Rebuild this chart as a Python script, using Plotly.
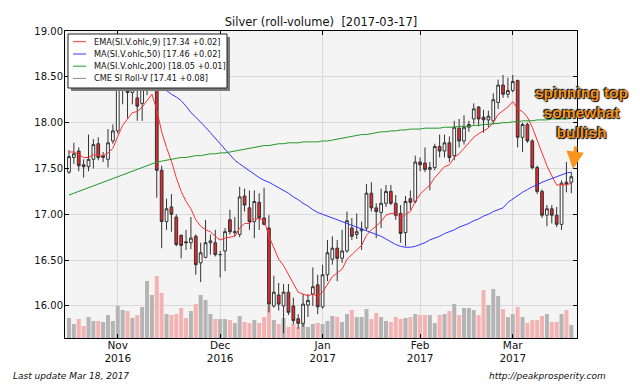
import pandas as pd
import plotly.graph_objects as go

# ---------------- data ----------------
holidays = ["2016-11-24", "2016-12-26", "2017-01-02", "2017-01-16", "2017-02-20"]
dates = [d.strftime("%Y-%m-%d") for d in pd.bdate_range("2016-10-18", "2017-03-17")
         if d.strftime("%Y-%m-%d") not in holidays]

open_ = [17.46,17.62,17.69,17.54,17.52,17.60,17.77,17.62,17.60,17.80,
         17.91,18.40,18.42,18.33,18.27,18.21,18.37,18.50,18.60,17.48,
         16.92,17.08,16.97,16.77,16.70,16.69,16.76,16.47,16.53,16.69,
         16.69,16.56,16.60,16.94,16.80,16.78,17.20,17.07,16.92,17.13,
         16.96,16.85,16.00,16.12,16.00,16.15,16.00,15.86,15.81,16.01,
         16.13,16.23,15.99,16.34,16.51,16.63,16.52,16.60,16.85,16.78,
         16.82,16.85,17.23,17.07,17.02,17.12,17.25,17.12,17.01,16.80,
         17.17,17.14,17.57,17.56,17.49,17.51,17.74,17.69,17.78,17.64,
         17.94,17.80,17.95,18.04,18.17,18.06,18.03,18.02,18.22,18.41,
         18.31,18.35,18.46,17.84,17.98,17.80,17.51,17.25,16.99,17.06,
         16.99,16.89,17.35,17.35]
high = [17.70,17.78,17.73,17.60,17.87,17.82,17.84,17.68,17.93,17.98,
        18.45,18.50,18.50,18.45,18.37,18.40,18.85,18.95,18.70,17.53,
        17.17,17.22,17.00,16.78,16.83,16.97,16.78,16.69,16.94,16.78,
        16.83,16.60,16.85,17.05,16.97,17.30,17.28,17.26,17.26,17.23,
        17.29,16.99,16.33,16.25,16.24,16.24,16.09,15.91,16.13,16.13,
        16.42,16.34,16.45,16.72,16.76,16.72,16.83,17.03,16.96,17.01,
        16.92,17.33,17.35,17.12,17.28,17.32,17.32,17.21,17.10,17.20,
        17.26,17.64,17.62,17.73,17.57,17.77,17.87,17.87,17.85,18.02,
        18.04,18.08,18.02,18.21,18.18,18.14,18.13,18.32,18.47,18.52,
        18.49,18.52,18.47,18.00,18.00,17.82,17.53,17.27,17.10,17.10,
        17.08,17.37,17.57,17.46]
low = [17.44,17.55,17.47,17.40,17.47,17.50,17.59,17.57,17.51,17.77,
       17.88,18.20,18.05,18.20,18.02,18.02,18.30,18.40,17.18,16.63,
       16.83,16.81,16.65,16.52,16.61,16.62,16.34,16.26,16.52,16.56,
       16.54,16.31,16.38,16.78,16.76,16.75,17.03,16.83,16.74,16.83,
       16.88,15.93,15.98,15.95,15.70,15.90,15.80,15.75,15.77,15.88,
       16.00,15.91,15.97,16.27,16.45,16.27,16.47,16.58,16.72,16.73,
       16.61,16.82,17.03,16.74,16.85,17.08,17.10,16.94,16.69,16.65,
       17.05,17.12,17.47,17.46,17.26,17.48,17.62,17.62,17.57,17.59,
       17.73,17.76,17.90,17.98,17.96,17.89,17.95,17.98,18.15,18.27,
       18.27,18.33,17.73,17.68,17.78,17.49,17.22,16.96,16.87,16.90,
       16.86,16.83,17.24,17.23]
close = [17.63,17.66,17.53,17.52,17.60,17.76,17.62,17.64,17.78,17.91,
         18.40,18.42,18.33,18.38,18.18,18.37,18.50,18.60,17.48,16.92,
         17.06,17.00,16.67,16.66,16.69,16.74,16.45,16.58,16.69,16.71,
         16.56,16.56,16.81,16.81,16.81,17.19,17.10,16.92,17.14,16.96,
         16.89,16.02,16.15,16.02,16.15,15.93,15.84,15.81,16.02,16.06,
         16.21,15.99,16.34,16.58,16.63,16.52,16.60,16.93,16.76,16.81,
         16.84,17.23,17.07,17.03,17.12,17.25,17.12,16.99,16.79,17.14,
         17.13,17.57,17.54,17.49,17.51,17.74,17.69,17.78,17.62,17.95,
         17.80,17.95,17.98,18.15,18.04,18.03,18.07,18.25,18.41,18.31,
         18.35,18.45,17.84,17.98,17.80,17.51,17.25,16.99,17.06,16.99,
         16.89,17.34,17.33,17.41]
volume = [40,28,38,24,42,34,34,32,46,34,
          64,56,54,40,46,62,114,86,124,90,
          48,46,48,60,40,54,68,86,76,48,
          38,38,38,36,30,44,32,30,36,30,
          42,64,36,28,40,22,28,22,30,22,
          28,30,28,34,44,42,32,48,56,42,
          42,58,38,50,42,34,32,42,38,40,
          42,48,46,46,46,30,46,48,54,68,
          46,60,60,56,46,96,66,98,84,58,
          42,48,62,42,30,36,36,44,48,32,
          32,48,56,26]
ema9 = [17.68,17.68,17.65,17.62,17.62,17.65,17.64,17.64,17.67,17.72,
        17.85,17.97,18.04,18.11,18.12,18.17,18.24,18.31,18.14,17.90,
        17.73,17.58,17.40,17.25,17.14,17.06,16.94,16.87,16.83,16.81,
        16.76,16.72,16.74,16.75,16.76,16.85,16.90,16.90,16.95,16.95,
        16.94,16.76,16.64,16.51,16.44,16.34,16.24,16.15,16.13,16.11,
        16.13,16.10,16.15,16.24,16.32,16.36,16.40,16.51,16.56,16.61,
        16.66,16.77,16.83,16.87,16.92,16.99,17.01,17.01,16.96,17.00,
        17.03,17.14,17.22,17.27,17.32,17.40,17.46,17.52,17.54,17.62,
        17.66,17.72,17.77,17.84,17.88,17.91,17.94,18.00,18.09,18.13,
        18.17,18.23,18.15,18.12,18.06,17.95,17.81,17.65,17.53,17.42,
        17.32,17.32,17.32,17.34]
ma50 = [18.95,18.93,18.91,18.88,18.86,18.84,18.81,18.79,18.76,18.73,
        18.70,18.67,18.64,18.61,18.58,18.55,18.51,18.47,18.43,18.38,
        18.34,18.31,18.28,18.24,18.18,18.11,18.06,18.01,17.95,17.89,
        17.83,17.77,17.71,17.65,17.59,17.55,17.51,17.47,17.43,17.40,
        17.37,17.35,17.32,17.29,17.26,17.23,17.19,17.16,17.12,17.09,
        17.05,17.02,17.00,16.98,16.96,16.94,16.92,16.90,16.88,16.86,
        16.84,16.82,16.80,16.78,16.76,16.73,16.70,16.67,16.65,16.64,
        16.64,16.65,16.67,16.69,16.72,16.74,16.76,16.79,16.81,16.83,
        16.86,16.88,16.90,16.93,16.95,16.98,17.00,17.03,17.05,17.07,
        17.13,17.17,17.21,17.24,17.27,17.30,17.32,17.35,17.37,17.39,
        17.41,17.43,17.45,17.46]
ma200 = [17.21,17.23,17.25,17.27,17.29,17.31,17.33,17.35,17.37,17.39,
         17.41,17.43,17.45,17.47,17.49,17.51,17.53,17.55,17.57,17.58,
         17.59,17.60,17.61,17.62,17.62,17.63,17.64,17.64,17.65,17.66,
         17.66,17.67,17.67,17.68,17.69,17.70,17.71,17.72,17.73,17.74,
         17.75,17.75,17.76,17.77,17.77,17.78,17.78,17.78,17.79,17.79,
         17.79,17.79,17.80,17.80,17.81,17.82,17.83,17.84,17.85,17.86,
         17.87,17.87,17.88,17.89,17.90,17.90,17.91,17.91,17.92,17.92,
         17.93,17.93,17.93,17.94,17.94,17.94,17.94,17.95,17.95,17.95,
         17.96,17.96,17.96,17.97,17.97,17.98,17.98,17.99,17.99,18.00,
         18.00,18.01,18.01,18.02,18.02,18.02,18.03,18.03,18.03,18.04,
         18.04,18.04,18.04,18.05]

tick_dates = ["2016-11-01", "2016-12-01", "2017-01-03", "2017-02-01", "2017-03-01"]
tick_text = ["Nov<br>2016", "Dec<br>2016", "Jan<br>2017", "Feb<br>2017", "Mar<br>2017"]
price_ticks = [16.0, 16.5, 17.0, 17.5, 18.0, 18.5, 19.0]

legend_labels = ["EMA(SI.V.ohlc,9) [17.34 +0.02]",
                 "MA(SI.V.ohlc,50) [17.46 +0.02]",
                 "MA(SI.V.ohlc,200) [18.05 +0.01]",
                 "CME SI Roll-V [17.41 +0.08]"]

# ---------------- styling helpers ----------------
FONT = "DejaVu Sans"
L, R, T, B = 65, 577, 31, 338
W, H = 640, 384
def px(x): return (x - L) / (R - L)
def py(y): return (B - y) / (B - T)

RED, BLUE, GREEN, GRAY = "#ff3030", "#3535ff", "#22992a", "#8c8c8c"

vol_colors = ["#b4b4b4" if c >= o else "#f4b2b2" for o, c in zip(open_, close)]

fig = go.Figure()
fig.add_trace(go.Bar(x=dates, y=volume, marker=dict(color=vol_colors, line=dict(width=0)),
                     yaxis="y", showlegend=False, hoverinfo="skip"))
fig.add_trace(go.Candlestick(x=dates, open=open_, high=high, low=low, close=close,
                             yaxis="y2", showlegend=False,
                             increasing=dict(line=dict(color="#333333", width=1), fillcolor="#ffffff"),
                             decreasing=dict(line=dict(color="#333333", width=1), fillcolor="#e8282c"),
                             whiskerwidth=0))
for vals, col in [(ema9, RED), (ma50, BLUE), (ma200, GREEN)]:
    fig.add_trace(go.Scatter(x=dates, y=vals, mode="lines", yaxis="y2",
                             line=dict(color=col, width=1), showlegend=False, hoverinfo="skip"))

shapes = []
annotations = []
# legend box with shadow
shapes.append(dict(type="rect", xref="paper", yref="paper", x0=px(71), x1=px(230), y0=py(91), y1=py(37),
                   fillcolor="#7a7a7a", line=dict(width=0), layer="above"))
shapes.append(dict(type="rect", xref="paper", yref="paper", x0=px(68), x1=px(227), y0=py(88), y1=py(34),
                   fillcolor="#ffffff", line=dict(color="#222222", width=1), layer="above"))
rows = [41.7, 54.0, 66.2, 78.4]
for lab, col, ry in zip(legend_labels, [RED, BLUE, GREEN, GRAY], rows):
    shapes.append(dict(type="line", xref="paper", yref="paper", x0=px(73), x1=px(86), y0=py(ry), y1=py(ry),
                       line=dict(color=col, width=1), layer="above"))
    annotations.append(dict(text=lab, xref="paper", yref="paper", x=px(92), y=py(ry),
                            xanchor="left", yanchor="middle", showarrow=False,
                            font=dict(family=FONT, size=8.2, color="#111111")))

# callout text + arrow
annotations.append(dict(text="spinning top<br>somewhat<br>bullish", xref="paper", yref="paper",
                        x=px(581), y=py(112), xanchor="center", yanchor="middle", showarrow=False,
                        align="center",
                        font=dict(family="Liberation Sans", size=15.5, color="#f7941d", weight="bold",
                                  shadow="0px 0px 2px #000, 1px 1px 1px #000, -1px -1px 1px #000")))
annotations.append(dict(text="", xref="paper", yref="paper", x=px(573), y=py(169),
                        ax=3, ay=-24, showarrow=True, arrowhead=2, arrowsize=1,
                        arrowwidth=3.5, arrowcolor="#f7941d"))
# footer texts
annotations.append(dict(text="<i>Last update Mar 18, 2017</i>", xref="paper", yref="paper",
                        x=px(11), y=py(376), xanchor="left", yanchor="middle", showarrow=False,
                        font=dict(family=FONT, size=9, color="#111111")))
annotations.append(dict(text="<i>http://peakprosperity.com</i>", xref="paper", yref="paper",
                        x=px(608), y=py(376), xanchor="right", yanchor="middle", showarrow=False,
                        font=dict(family=FONT, size=9, color="#111111")))

fig.update_layout(
    width=W, height=H,
    margin=dict(l=L, r=W - R, t=T, b=H - B, pad=0),
    paper_bgcolor="#ffffff", plot_bgcolor="#f4f4f4",
    title=dict(text="Silver (roll-volume)  [2017-03-17]", x=px(321), xref="paper",
               y=1 - 22 / H, yref="container", xanchor="center", yanchor="middle",
               font=dict(family=FONT, size=11.5, color="#111111")),
    showlegend=False, hovermode=False,
    bargap=0.18, boxgap=0.2,
    xaxis=dict(type="category", range=[-0.82, 104.17], tickvals=tick_dates, ticktext=tick_text,
               ticks="inside", ticklen=4, tickcolor="#000000", showgrid=True, gridcolor="#d9d9d9",
               showline=True, linecolor="#000000", linewidth=1, mirror="ticks",
               ticklabelstandoff=-3,
               rangeslider=dict(visible=False), tickfont=dict(family=FONT, size=10.5, color="#111111")),
    yaxis=dict(range=[0, 614], visible=False, showgrid=False, fixedrange=True),
    yaxis2=dict(overlaying="y", side="left", range=[15.65, 19.0001], tickvals=price_ticks,
                tickformat=".2f", ticks="inside", ticklen=4, tickcolor="#000000",
                showgrid=True, gridcolor="#d9d9d9", zeroline=False,
                showline=True, linecolor="#000000", linewidth=1, mirror="ticks",
                ticklabelstandoff=-1,
                tickfont=dict(family=FONT, size=10, color="#111111")),
    shapes=shapes, annotations=annotations,
)

fig.write_html("out.html", config={"displayModeBar": False, "staticPlot": True},
               post_script="document.body.style.margin='0';document.body.style.overflow='hidden';")
